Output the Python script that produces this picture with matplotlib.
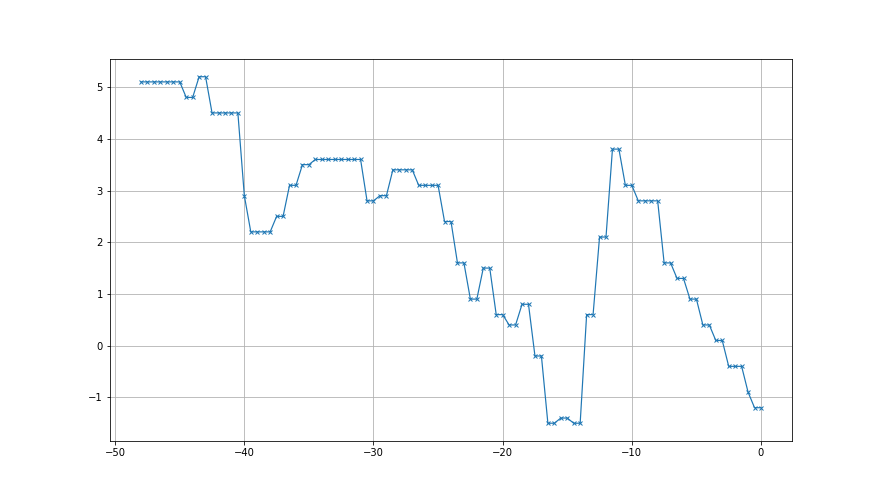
import numpy as np
import matplotlib
matplotlib.use("Agg")
import matplotlib.pyplot as plt

x_start, x_step = -48.0, 0.5
values = (
    [5.1] * 7 + [4.8] * 2 + [5.2] * 2 + [4.5] * 5 + [2.9] + [2.2] * 4
    + [2.5] * 2 + [3.1] * 2 + [3.5] * 2 + [3.6] * 8 + [2.8] * 2 + [2.9] * 2
    + [3.4] * 4 + [3.1] * 4 + [2.4] * 2 + [1.6] * 2 + [0.9] * 2 + [1.5] * 2
    + [0.6] * 2 + [0.4] * 2 + [0.8] * 2 + [-0.2] * 2 + [-1.5] * 2 + [-1.4] * 2
    + [-1.5] * 2 + [0.6] * 2 + [2.1] * 2 + [3.8] * 2 + [3.1] * 2 + [2.8] * 4
    + [1.6] * 2 + [1.3] * 2 + [0.9] * 2 + [0.4] * 2 + [0.1] * 2 + [-0.4] * 3
    + [-0.9] + [-1.2] * 2
)
x = x_start + x_step * np.arange(len(values))

fig, ax = plt.subplots(figsize=(880 / 72, 495 / 72), dpi=72)
ax.plot(x, values, marker='x', color='#1f77b4', linewidth=1.2, markersize=4.5)
ax.grid(True)
fig.savefig("out.png", dpi=72)
